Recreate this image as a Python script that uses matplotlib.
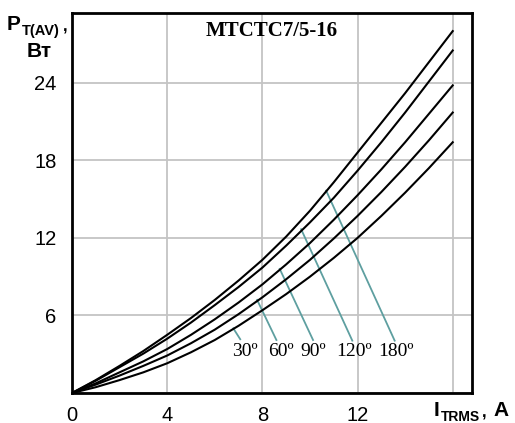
import numpy as np
import matplotlib
matplotlib.use("Agg")
import matplotlib.pyplot as plt

# current, A
i_rms = [0, 1, 2, 3, 4, 5, 6, 7, 8, 9, 10, 11, 12, 13, 14, 15, 16]

# power loss, W, one curve per conduction angle
p_180 = [0, 1.0, 2.1, 3.25, 4.5, 5.8, 7.2, 8.7, 10.3, 12.1, 14.1, 16.3, 18.6, 20.9, 23.2, 25.6, 28.0]
p_120 = [0, 0.95, 2.0, 3.05, 4.2, 5.45, 6.8, 8.2, 9.7, 11.4, 13.2, 15.1, 17.2, 19.4, 21.7, 24.1, 26.5]
p_90 = [0, 0.75, 1.6, 2.45, 3.4, 4.5, 5.7, 7.0, 8.4, 9.95, 11.6, 13.4, 15.3, 17.3, 19.4, 21.6, 23.8]
p_60 = [0, 0.65, 1.35, 2.1, 2.9, 3.85, 4.9, 6.1, 7.4, 8.8, 10.3, 11.95, 13.7, 15.55, 17.5, 19.55, 21.7]
p_30 = [0, 0.45, 1.0, 1.6, 2.3, 3.15, 4.1, 5.2, 6.4, 7.65, 9.0, 10.45, 12.0, 13.7, 15.5, 17.4, 19.4]

# angle labels and leader lines (curve point -> label point)
angles = ['30º', '60º', '90º', '120º', '180º']
lead_x0 = [6.78, 7.78, 8.73, 9.63, 10.68]
lead_y0 = [5.0, 7.2, 9.6, 12.67, 15.66]
lead_x1 = [7.07, 8.59, 10.13, 11.78, 13.56]
lead_y1 = [4.16, 4.1, 4.1, 4.05, 4.05]
label_x = [7.28, 8.76, 10.15, 11.85, 13.6]
label_y = 3.2

W, H = 515, 423
fig = plt.figure(figsize=(W / 100, H / 100), dpi=100)
ax = fig.add_axes([72 / W, (H - 393) / H, 400 / W, 380 / H])

for p in [p_180, p_120, p_90, p_60, p_30]:
    ax.plot(i_rms, p, color='black', lw=1.5, zorder=3)

teal = '#5e9fa0'
for k in range(len(angles)):
    ax.plot([lead_x0[k], lead_x1[k]], [lead_y0[k], lead_y1[k]], color=teal, lw=1.3, zorder=2)
    ax.text(label_x[k], label_y, angles[k], family='Liberation Serif', fontsize=14,
            ha='center', va='center', zorder=4)

ax.set_xlim(0, 16.81)
ax.set_ylim(0, 29.4)
ax.set_xticks([0, 4, 8, 12, 16], ['0', '4', '8', '12', ''])
ax.set_yticks([0, 6, 12, 18, 24], ['', '6', '12', '18', '24'])
ax.tick_params(length=0, labelsize=14.5)
ax.tick_params(axis='x', pad=9)
ax.tick_params(axis='y', pad=11)
for lab in ax.get_xticklabels() + ax.get_yticklabels():
    lab.set_family('Liberation Sans')
ax.grid(True, color='#c4c4c4', lw=1.3)
ax.set_axisbelow(True)
for s in ax.spines.values():
    s.set_linewidth(2)
    s.set_color('black')

ax.text(0.498, 0.952, 'MTCTC7/5-16', transform=ax.transAxes, family='Liberation Serif',
        fontweight='bold', fontsize=15, ha='center', va='center')

# axis titles in figure pixels
def px(x, y):
    return x / W, 1 - y / H

sans = 'Liberation Sans'
fig.text(*px(7, 30), 'P', family=sans, fontweight='bold', fontsize=15, va='baseline')
fig.text(*px(22, 35), 'T(AV)', family=sans, fontweight='bold', fontsize=10.5, va='baseline')
fig.text(*px(63, 31), ',', family=sans, fontweight='bold', fontsize=12, va='baseline')
fig.text(*px(27, 57), 'Вт', family=sans, fontweight='bold', fontsize=15, va='baseline')
fig.text(*px(434, 416), 'I', family=sans, fontweight='bold', fontsize=15, va='baseline')
fig.text(*px(441, 421), 'TRMS', family=sans, fontweight='bold', fontsize=10, va='baseline')
fig.text(*px(482, 417), ',', family=sans, fontweight='bold', fontsize=12, va='baseline')
fig.text(*px(493, 416), 'A', family=sans, fontweight='bold', fontsize=15, va='baseline')

fig.savefig('out.png', dpi=100)
